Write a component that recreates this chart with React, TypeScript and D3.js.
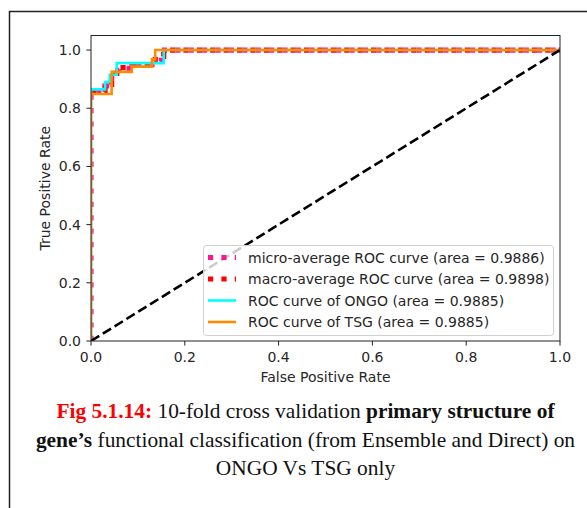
import React from "react";
import * as d3 from "d3";

// ROC curves (false positive rate / true positive rate)
const microFpr = [0, 0, 0.03, 0.03, 0.044, 0.044, 0.06, 0.06, 0.09, 0.09, 0.13, 0.13, 0.15, 0.15, 1];
const microTpr = [0, 0.857, 0.857, 0.877, 0.877, 0.93, 0.93, 0.937, 0.937, 0.95, 0.95, 0.962, 0.962, 1, 1];

const macroFpr = [0, 0.03, 0.03, 0.04, 0.04, 0.044, 0.044, 0.055, 0.055, 0.087, 0.087, 0.13, 0.13, 0.137, 0.137, 0.155, 0.155, 1];
const macroTpr = [0.857, 0.857, 0.87, 0.87, 0.882, 0.882, 0.92, 0.92, 0.94, 0.94, 0.949, 0.949, 0.962, 0.962, 0.978, 0.978, 1, 1];

const ongoFpr = [0, 0, 0.03, 0.03, 0.04, 0.04, 0.055, 0.055, 0.155, 0.155, 1];
const ongoTpr = [0, 0.865, 0.865, 0.89, 0.89, 0.915, 0.915, 0.955, 0.955, 1, 1];

const tsgFpr = [0, 0, 0.044, 0.044, 0.087, 0.087, 0.13, 0.13, 0.137, 0.137, 1];
const tsgTpr = [0, 0.849, 0.849, 0.925, 0.925, 0.943, 0.943, 0.968, 0.968, 1, 1];

const chanceFpr = [0, 1];
const chanceTpr = [0, 1];

const legendLabels = [
  "micro-average ROC curve (area = 0.9886)",
  "macro-average ROC curve (area = 0.9898)",
  "ROC curve of ONGO (area = 0.9885)",
  "ROC curve of TSG (area = 0.9885)",
];

const xTicks = [0, 0.2, 0.4, 0.6, 0.8, 1.0];
const yTicks = [0, 0.2, 0.4, 0.6, 0.8, 1.0];

const W = 587;
const H = 508;
const plot = { left: 91, right: 560, top: 35.5, bottom: 341 };

const x = d3.scaleLinear().domain([0, 1]).range([plot.left, plot.right]);
const y = d3.scaleLinear().domain([0, 1.05]).range([plot.bottom, plot.top]);

const zip = (a: number[], b: number[]) => a.map((v, i) => [v, b[i]] as [number, number]);
const line = d3
  .line<[number, number]>()
  .x((d) => x(d[0]))
  .y((d) => y(d[1]));

const sans = "'DejaVu Sans', sans-serif";
const serif = "'Liberation Serif', 'Times New Roman', serif";
const FS = 14;

const series = [
  { fpr: microFpr, tpr: microTpr, color: "deeppink", width: 5.2, dash: "5.2 8.2" },
  { fpr: macroFpr, tpr: macroTpr, color: "red", width: 5.2, dash: "5.2 8.2" },
  { fpr: ongoFpr, tpr: ongoTpr, color: "aqua", width: 2.6, dash: undefined },
  { fpr: tsgFpr, tpr: tsgTpr, color: "darkorange", width: 2.6, dash: undefined },
];

export default function App() {
  const legendRows = [257.5, 279, 300.5, 322];
  return (
    <svg
      width={W}
      height={H}
      viewBox={`0 0 ${W} ${H}`}
      style={{ position: "absolute", left: 0, top: 0, background: "#fff" }}
    >
      {/* page frame */}
      <path d={`M9.5,${H} V11.5 H${W}`} fill="none" stroke="#222" strokeWidth={1.5} />

      <defs>
        <clipPath id="plotClip">
          <rect x={plot.left} y={plot.top} width={plot.right - plot.left} height={plot.bottom - plot.top} />
        </clipPath>
      </defs>

      {/* curves */}
      <g clipPath="url(#plotClip)">
        {series.map((s, i) => (
          <path
            key={i}
            d={line(zip(s.fpr, s.tpr)) || ""}
            fill="none"
            stroke={s.color}
            strokeWidth={s.width}
            strokeDasharray={s.dash}
          />
        ))}
        <path
          d={line(zip(chanceFpr, chanceTpr)) || ""}
          fill="none"
          stroke="black"
          strokeWidth={2.6}
          strokeDasharray="9.7 4.2"
        />
      </g>

      {/* axes frame */}
      <rect
        x={plot.left}
        y={plot.top}
        width={plot.right - plot.left}
        height={plot.bottom - plot.top}
        fill="none"
        stroke="#222"
        strokeWidth={1}
      />

      {/* x ticks */}
      {xTicks.map((t) => (
        <g key={"x" + t}>
          <line x1={x(t)} x2={x(t)} y1={plot.bottom} y2={plot.bottom + 4.6} stroke="#222" strokeWidth={1} />
          <text x={x(t)} y={362} textAnchor="middle" fontFamily={sans} fontSize={FS} fill="#262626">
            {t.toFixed(1)}
          </text>
        </g>
      ))}
      {/* y ticks */}
      {yTicks.map((t) => (
        <g key={"y" + t}>
          <line x1={plot.left - 4.6} x2={plot.left} y1={y(t)} y2={y(t)} stroke="#222" strokeWidth={1} />
          <text x={81} y={y(t)} dy="0.36em" textAnchor="end" fontFamily={sans} fontSize={FS} fill="#262626">
            {t.toFixed(1)}
          </text>
        </g>
      ))}

      <text x={(plot.left + plot.right) / 2} y={382} textAnchor="middle" fontFamily={sans} fontSize={FS} fill="#262626">
        False Positive Rate
      </text>
      <text
        transform={`translate(50,${(plot.top + plot.bottom) / 2}) rotate(-90)`}
        textAnchor="middle"
        fontFamily={sans}
        fontSize={FS}
        fill="#262626"
      >
        True Positive Rate
      </text>

      {/* legend */}
      <rect x={203.5} y={245.5} width={350} height={90} rx={3} fill="white" fillOpacity={0.8} stroke="#d0d0d0" strokeWidth={1} />
      {legendLabels.map((label, i) => {
        const s = series[i];
        const ry = legendRows[i];
        return (
          <g key={label}>
            <line
              x1={208}
              x2={236}
              y1={ry}
              y2={ry}
              stroke={s.color}
              strokeWidth={s.width}
              strokeDasharray={s.dash}
            />
            <text x={248} y={ry} dy="0.36em" fontFamily={sans} fontSize={FS} fill="#262626">
              {label}
            </text>
          </g>
        );
      })}

      {/* caption */}
      <g fontFamily={serif} fontSize={21.4} fill="#111" textAnchor="middle">
        <text x={305.5} y={418}>
          <tspan fill="red" fontWeight="bold">Fig 5.1.14:</tspan>
          <tspan> 10-fold cross validation </tspan>
          <tspan fontWeight="bold">primary structure of</tspan>
        </text>
        <text x={305.5} y={446.5}>
          <tspan fontWeight="bold">gene’s</tspan>
          <tspan> functional classification (from Ensemble and Direct) on</tspan>
        </text>
        <text x={305.5} y={475}>ONGO Vs TSG only</text>
      </g>
    </svg>
  );
}
